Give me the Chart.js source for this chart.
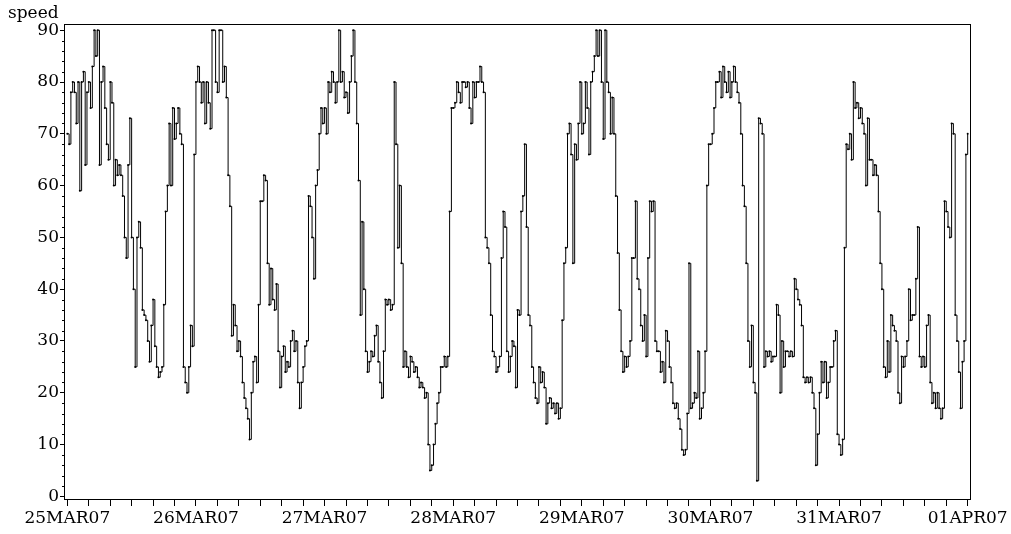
<!DOCTYPE html>
<html>
<head>
<meta charset="utf-8">
<script src="https://cdn.jsdelivr.net/npm/chart.js@4.4.0/dist/chart.umd.min.js"></script>
<style>
  html, body { margin: 0; padding: 0; background: #fff; }
  canvas { display: block; }
</style>
</head>
<body>
<canvas id="speed-chart" width="1011" height="534"></canvas>
<script>
// one reading every 20 minutes, one array per day (72 readings)
const day25 = [
    70, 68, 78,  80, 78, 72,  80, 59, 80,  82, 64, 78,  80, 75, 83,  90, 85, 90,
    64, 80, 83,  75, 68, 65,  80, 76, 60,  65, 62, 64,  62, 58, 50,  46, 64, 73,
    50, 40, 25,  50, 53, 48,  36, 35, 34,  30, 26, 33,  38, 29, 25,  23, 24, 25,
    37, 55, 60,  72, 60, 75,  69, 72, 75,  70, 68, 25,  22, 20, 25,  33, 29, 66
];
const day26 = [
    80, 83, 80,  76, 80, 72,  80, 76, 71,  90, 90, 80,  78, 90, 90,  80, 83, 77,
    62, 56, 31,  37, 33, 28,  30, 27, 22,  19, 17, 15,  11, 20, 26,  27, 22, 37,
    57, 57, 62,  61, 45, 37,  44, 38, 36,  41, 28, 21,  27, 29, 24,  26, 25, 30,
    32, 28, 30,  22, 17, 22,  25, 29, 30,  58, 56, 50,  42, 60, 63,  70, 75, 72
];
const day27 = [
    75, 70, 80,  78, 82, 80,  76, 80, 90,  80, 82, 77,  78, 74, 80,  85, 90, 80,
    72, 61, 35,  53, 40, 28,  24, 26, 28,  27, 31, 33,  26, 22, 19,  28, 38, 37,
    38, 36, 37,  80, 68, 48,  60, 45, 25,  28, 25, 23,  27, 26, 24,  25, 23, 21,
    22, 21, 19,  20, 10,  5,   6, 10, 14,  18, 20, 25,  25, 27, 25,  27, 55, 75
];
const day28 = [
    75, 76, 80,  78, 76, 80,  80, 79, 80,  75, 72, 80,  77, 80, 80,  83, 80, 78,
    50, 48, 45,  35, 28, 27,  24, 25, 27,  46, 55, 52,  28, 24, 27,  30, 29, 21,
    36, 35, 55,  58, 68, 52,  35, 33, 25,  22, 19, 18,  25, 22, 24,  21, 14, 18,
    19, 17, 18,  16, 18, 15,  17, 34, 45,  48, 70, 72,  66, 45, 68,  65, 72, 80
];
const day29 = [
    70, 72, 80,  75, 66, 80,  82, 85, 90,  85, 90, 80,  69, 90, 80,  78, 70, 77,
    70, 58, 47,  36, 28, 24,  27, 25, 27,  30, 46, 46,  57, 42, 40,  33, 30, 35,
    27, 46, 57,  55, 57, 30,  28, 28, 24,  26, 22, 32,  30, 25, 22,  18, 17, 18,
    15, 13,  9,   8,  9, 16,  45, 17, 18,  20, 19, 28,  15, 17, 20,  28, 60, 68
];
const day30 = [
    68, 70, 75,  80, 80, 82,  77, 83, 80,  78, 82, 77,  80, 83, 80,  78, 76, 70,
    60, 56, 45,  30, 25, 33,  22, 20,  3,  73, 72, 70,  25, 28, 27,  28, 26, 27,
    27, 37, 35,  20, 30, 25,  28, 28, 27,  28, 27, 42,  40, 38, 37,  33, 23, 22,
    23, 22, 23,  20, 17,  6,  12, 20, 26,  22, 26, 19,  22, 25, 25,  30, 32, 12
];
const day31 = [
    10,  8, 11,  48, 68, 67,  70, 65, 80,  75, 76, 73,  75, 72, 70,  60, 73, 65,
    65, 62, 64,  62, 55, 45,  40, 25, 23,  30, 24, 35,  33, 32, 30,  20, 18, 27,
    25, 27, 30,  40, 34, 35,  35, 42, 52,  27, 25, 27,  25, 33, 35,  22, 18, 20,
    17, 20, 17,  15, 17, 57,  55, 52, 50,  72, 70, 35,  30, 24, 17,  26, 30, 66
];
const apr01 = [70];

const dayLabels = ['25MAR07', '26MAR07', '27MAR07', '28MAR07', '29MAR07', '30MAR07', '31MAR07', '01APR07'];
const yTickValues = [0, 10, 20, 30, 40, 50, 60, 70, 80, 90];
const stepHours = 1 / 3;

const speeds = [].concat(day25, day26, day27, day28, day29, day30, day31, apr01);
const points = speeds.map((v, i) => ({ x: i * stepHours, y: v }));

// x ticks every 4 hours, labels only at midnight
const hourTicks = [];
for (let h = 0; h <= 168; h += 4) hourTicks.push(h);

const tickFont = { family: '"DejaVu Serif", serif', size: 17 };

// box round the plot, minor y ticks and the "speed" label
const framePlugin = {
    id: 'frame',
    afterDraw(chart) {
        const ctx = chart.ctx;
        const a = chart.chartArea;
        const yScale = chart.scales.y;
        ctx.save();
        ctx.strokeStyle = '#000';
        ctx.lineWidth = 1;
        ctx.strokeRect(Math.round(a.left) + 0.5, Math.round(a.top) + 0.5,
            Math.round(a.right - a.left) - 1, Math.round(a.bottom - a.top) - 1);

        ctx.beginPath();
        for (let v = 2; v < 91; v += 2) {
            if (v % 10 === 0) continue;
            const y = Math.round(yScale.getPixelForValue(v)) + 0.5;
            ctx.moveTo(a.left - 2, y);
            ctx.lineTo(a.left, y);
        }
        ctx.stroke();

        ctx.fillStyle = '#000';
        ctx.font = '17px "DejaVu Serif", serif';
        ctx.textBaseline = 'alphabetic';
        ctx.textAlign = 'left';
        ctx.fillText('speed', 8, 18);
        ctx.restore();
    }
};

new Chart(document.getElementById('speed-chart'), {
    type: 'line',
    data: {
        datasets: [{
            label: 'speed',
            data: points,
            stepped: true,
            borderColor: '#000',
            borderWidth: 1,
            pointRadius: 1,
            pointBorderWidth: 0,
            pointBackgroundColor: '#000',
            pointHoverRadius: 0,
            fill: false
        }]
    },
    options: {
        responsive: false,
        animation: false,
        devicePixelRatio: 1,
        layout: { padding: { top: 24, right: 40, bottom: 0, left: 0 } },
        plugins: {
            legend: { display: false },
            tooltip: { enabled: false },
            title: { display: false }
        },
        scales: {
            x: {
                type: 'linear',
                min: -0.62,
                max: 168.62,
                afterBuildTicks: (scale) => { scale.ticks = hourTicks.map(v => ({ value: v })); },
                afterFit: (scale) => { scale.height = 34; },
                border: { display: false },
                grid: { drawOnChartArea: false, drawTicks: true, tickLength: 6, tickColor: '#000' },
                ticks: {
                    autoSkip: false,
                    maxRotation: 0,
                    padding: 2,
                    color: '#000',
                    font: tickFont,
                    callback: (value) => value % 24 === 0 ? dayLabels[value / 24] : ''
                }
            },
            y: {
                min: -0.7,
                max: 91.2,
                afterBuildTicks: (scale) => { scale.ticks = yTickValues.map(v => ({ value: v })); },
                afterFit: (scale) => { scale.width = 64; },
                border: { display: false },
                grid: { drawOnChartArea: false, drawTicks: true, tickLength: 4, tickColor: '#000' },
                ticks: {
                    padding: 1,
                    color: '#000',
                    font: tickFont,
                    callback: (value) => String(value)
                }
            }
        }
    },
    plugins: [framePlugin]
});
</script>
</body>
</html>
